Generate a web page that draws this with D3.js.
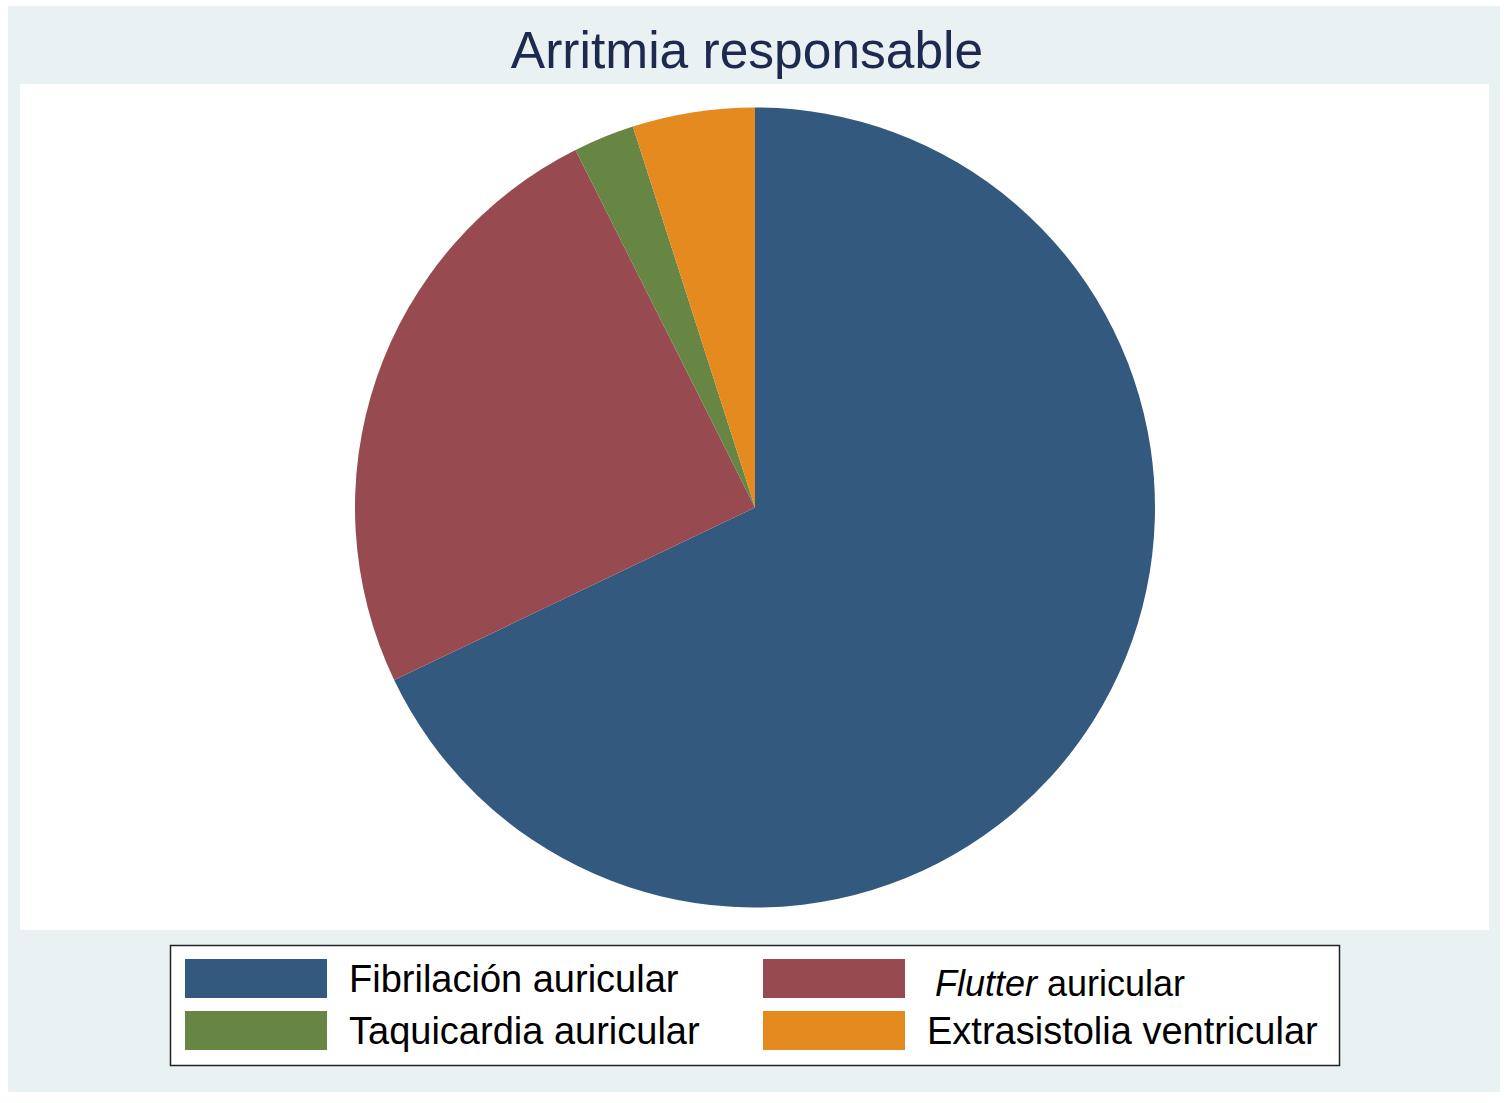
<html lang="en">
  <head>
    <meta charset="utf-8">
    <title>Arritmia responsable</title>
    <script src="https://d3js.org/d3.v7.min.js"></script>
    <style>
      body { margin: 0; background: #ffffff; }
      text { font-family: "Liberation Sans", Arial, sans-serif; }
    </style>
  </head>
  <body>
    <script type="text/javascript">
      var w = 1508;
      var h = 1103;
      var categories = ["Fibrilación auricular", "Flutter auricular", "Taquicardia auricular", "Extrasistolia ventricular"];
      var counts = [55, 20, 2, 4];
      var colors = ["#335a7e", "#974a4f", "#678543", "#e48a1e"];
      var title = "Arritmia responsable";

      var svg = d3.select("body")
          .append("svg")
          .attr("width", w)
          .attr("height", h);

      // outer panel
      svg.append("rect")
          .attr("x", 8).attr("y", 6)
          .attr("width", 1492).attr("height", 1086)
          .attr("fill", "#eaf1f3");
      // plot region
      svg.append("rect")
          .attr("x", 20).attr("y", 84)
          .attr("width", 1469).attr("height", 846)
          .attr("fill", "#ffffff");

      svg.append("text")
          .attr("x", 747).attr("y", 68)
          .attr("text-anchor", "middle")
          .attr("font-size", 51.5)
          .attr("fill", "#1c2a50")
          .text(title);

      var pie = d3.pie().sort(null).value(function(d) { return d; });
      var arc = d3.arc().innerRadius(0).outerRadius(400);

      var g = svg.append("g")
          .attr("transform", "translate(755, 507.5)");
      g.selectAll("path")
          .data(pie(counts))
          .enter()
          .append("path")
          .attr("d", arc)
          .attr("fill", function(d, i) { return colors[i]; });

      // legend
      svg.append("rect")
          .attr("x", 170.5).attr("y", 945.5)
          .attr("width", 1169).attr("height", 120)
          .attr("fill", "#ffffff")
          .attr("stroke", "#222222")
          .attr("stroke-width", 1.5);

      var colX = [185, 763];
      var rowY = [959, 1011];
      categories.forEach(function(c, i) {
        var col = i % 2, row = Math.floor(i / 2);
        svg.append("rect")
            .attr("x", colX[col]).attr("y", rowY[row])
            .attr("width", 142).attr("height", 39)
            .attr("fill", colors[i]);
        var t = svg.append("text")
            .attr("x", col === 0 ? 349 : 927)
            .attr("y", rowY[row] + 33)
            .attr("font-size", 38)
            .attr("fill", "#000000");
        if (c.indexOf("Flutter") === 0) {
          t.attr("x", 935).attr("y", rowY[row] + 37).attr("font-size", 36);
          t.append("tspan").attr("font-style", "italic").text("Flutter");
          t.append("tspan").text(c.slice(7));
        } else {
          t.text(c);
        }
      });
    </script>
  </body>
</html>
